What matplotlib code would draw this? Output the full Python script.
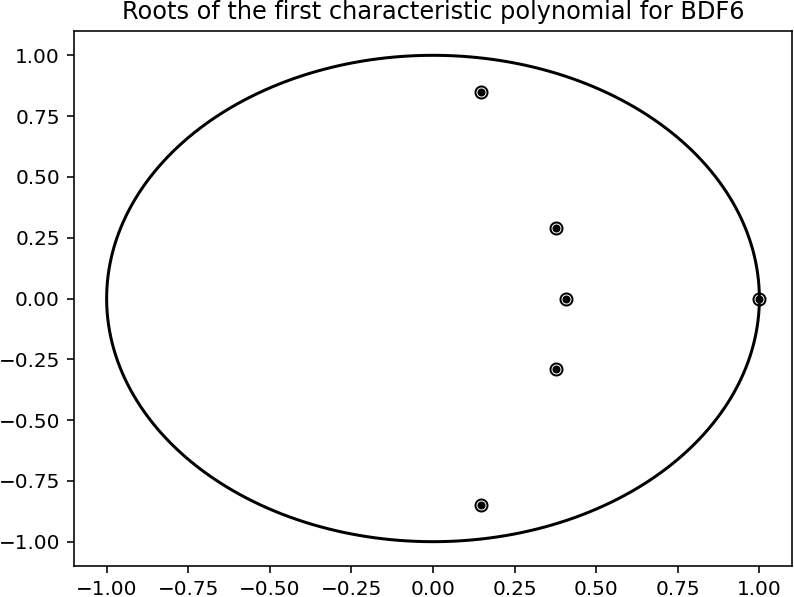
import numpy as np
import matplotlib
matplotlib.use("Agg")
import matplotlib.pyplot as plt

title = "Roots of the first characteristic polynomial for BDF6"
root_re = [0.146, 0.376, 0.406, 1.0, 0.376, 0.146]
root_im = [0.851, 0.288, 0.0, 0.0, -0.288, -0.851]
ticks = [-1.00, -0.75, -0.50, -0.25, 0.00, 0.25, 0.50, 0.75, 1.00]

DPI = 144
fig = plt.figure(figsize=(794 / DPI, 597 / DPI), dpi=DPI)
ax = fig.add_axes([74 / 794, 31 / 597, (792 - 74) / 794, (566 - 31) / 597])

t = np.linspace(0, 2 * np.pi, 500)
ax.plot(np.cos(t), np.sin(t), color="black", linewidth=1.5)
ax.plot(root_re, root_im, "o", markerfacecolor="none", markeredgecolor="black",
        markersize=6, linestyle="none")
ax.plot(root_re, root_im, ".", color="black", markersize=6, linestyle="none")

ax.set_xlim(-1.1, 1.1)
ax.set_ylim(-1.1, 1.1)
ax.set_xticks(ticks)
ax.set_yticks(ticks)
ax.set_xticklabels([f"{v:.2f}".replace("-", "\u2212") for v in ticks])
ax.set_yticklabels([f"{v:.2f}".replace("-", "\u2212") for v in ticks])
ax.tick_params(labelsize=10)
ax.set_title(title, fontsize=12)

fig.savefig("out.png", dpi=DPI)
